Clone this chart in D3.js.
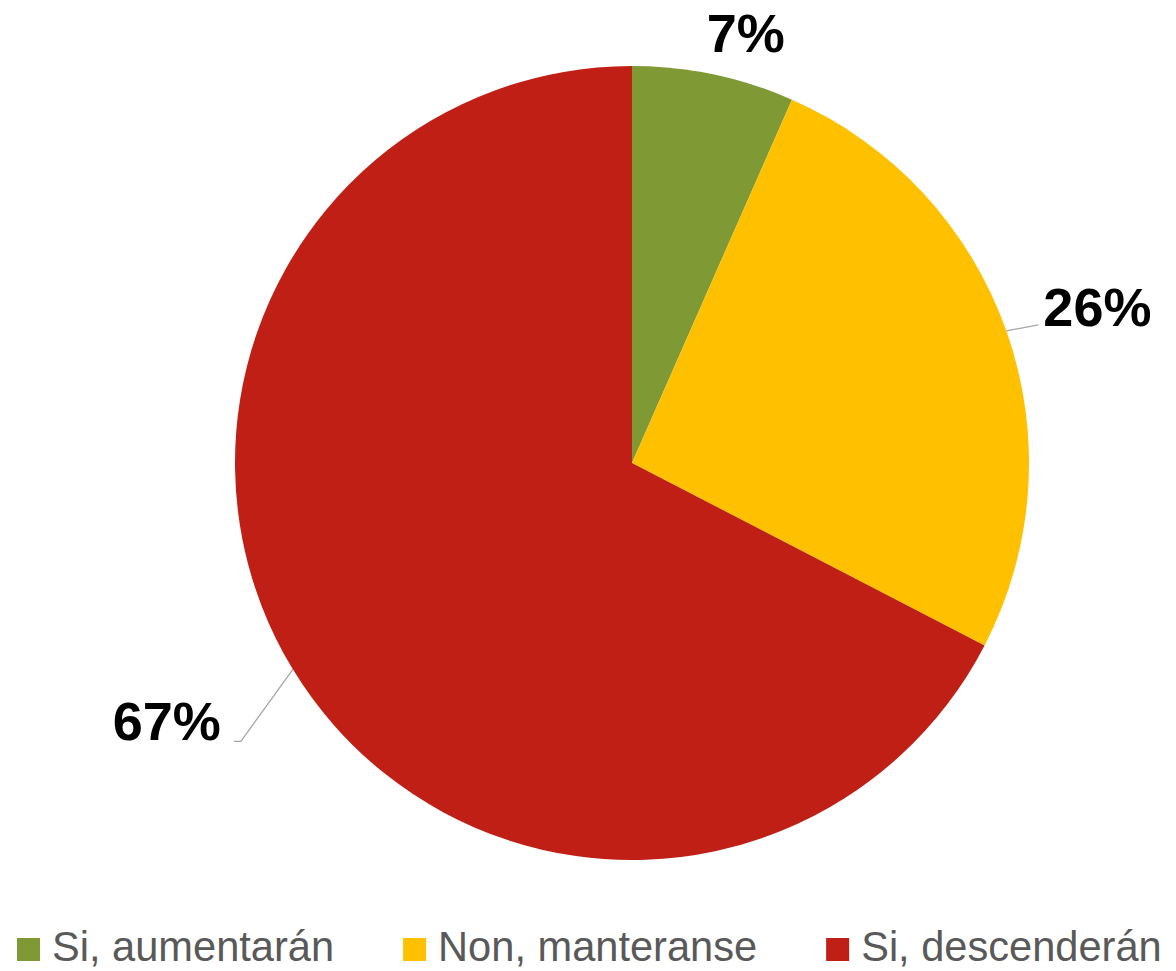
<!DOCTYPE html>
<html>
<head>
<meta charset="utf-8">
<script src="https://cdn.jsdelivr.net/npm/d3@7"></script>
<style>
  html, body { margin: 0; padding: 0; background: #fff; }
  svg { display: block; }
</style>
</head>
<body>
<svg id="chart" width="1176" height="971"></svg>
<script>
const categories = ["Si, aumentarán", "Non, manteranse", "Si, descenderán"];
const values = [6.6, 26.0, 67.4];
const labels = ["7%", "26%", "67%"];
const colors = ["#7F9935", "#FFC000", "#C01F16"];

const W = 1176, H = 971;
const cx = 632, cy = 463, R = 397;

const svg = d3.select("#chart");
const color = d3.scaleOrdinal().domain(categories).range(colors);

const pie = d3.pie().sort(null).value(d => d.value);
const data = pie(categories.map((c, i) => ({ name: c, value: values[i], label: labels[i] })));
const arc = d3.arc().innerRadius(0).outerRadius(R);

const g = svg.append("g").attr("transform", `translate(${cx},${cy})`);
g.selectAll("path.slice")
  .data(data)
  .join("path")
  .attr("class", "slice")
  .attr("d", arc)
  .attr("fill", d => color(d.data.name));

function edgePoint(d) {
  const a = (d.startAngle + d.endAngle) / 2;
  return [R * Math.sin(a), -R * Math.cos(a)];
}

const labelFont = "'Liberation Sans', Arial, sans-serif";
const layouts = [
  { leader: null, text: [32, -23], anchor: "middle" },
  { leader: [[32, -6]], text: [37, -5], anchor: "start" },
  { leader: [[-52, 72], [-59, 72]], text: [-72, 71], anchor: "end" }
];

data.forEach((d, i) => {
  const p = edgePoint(d);
  const L = layouts[i];
  if (L.leader) {
    const pts = [p].concat(L.leader.map(o => [p[0] + o[0], p[1] + o[1]]));
    g.append("path")
      .attr("d", d3.line()(pts))
      .attr("fill", "none")
      .attr("stroke", "#A6A6A6")
      .attr("stroke-width", 1.3);
  }
  g.append("text")
    .attr("x", p[0] + L.text[0])
    .attr("y", p[1] + L.text[1])
    .attr("text-anchor", L.anchor)
    .attr("font-family", labelFont)
    .attr("font-weight", "bold")
    .attr("font-size", 54)
    .attr("fill", "#000")
    .text(d.data.label);
});

// legend
const legend = svg.append("g").attr("transform", "translate(17,961)");
let x = 0;
categories.forEach((c, i) => {
  const item = legend.append("g").attr("transform", `translate(${x},0)`);
  item.append("rect")
    .attr("x", 0).attr("y", -23)
    .attr("width", 23).attr("height", 23)
    .attr("fill", color(c));
  const t = item.append("text")
    .attr("x", 35).attr("y", 0)
    .attr("font-family", labelFont)
    .attr("font-size", 41.6)
    .attr("fill", "#595959")
    .text(c);
  x += 35 + t.node().getComputedTextLength() + 69;
});
</script>
</body>
</html>
